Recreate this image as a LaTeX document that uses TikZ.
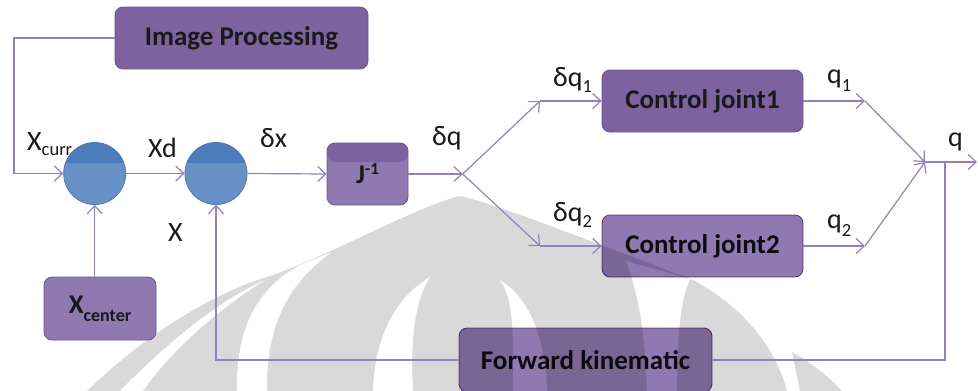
\documentclass[tikz,border=0pt]{standalone}
\usepackage{fontspec}
\setmainfont{Carlito}
\usetikzlibrary{arrows.meta}

\definecolor{boxdark}{HTML}{7E629F}
\definecolor{boxlight}{HTML}{9079B0}
\definecolor{boxedge}{HTML}{6C5690}
\definecolor{wire}{HTML}{9580BB}
\definecolor{balllight}{HTML}{6892C6}
\definecolor{balldark}{HTML}{4C7DBA}
\definecolor{balledge}{HTML}{4E78AC}
\definecolor{wmgray}{HTML}{D9D9D9}

\newcommand{\lowsub}[2][6pt]{\raisebox{-#1}{\fontsize{18.5}{18.5}\selectfont #2}}

\begin{document}
\begin{tikzpicture}[x=1pt,y=-1pt,
  blk/.style={draw=boxedge, line width=0.8pt, rounded corners=8pt, inner sep=0pt,
    font=\bfseries\fontsize{27}{27}\selectfont, text=black!90},
  darkbox/.style={blk, fill=boxdark},
  lightbox/.style={blk, fill=boxlight},
  overgray/.style={blend mode=multiply},
  summer/.style={circle, draw=balledge, line width=0.8pt, fill=balllight,
    minimum size=62pt, inner sep=0pt,
    path picture={\fill[balldark] (path picture bounding box.north west)
      rectangle ([yshift=-20pt]path picture bounding box.north east);}},
  wireline/.style={draw=wire, line width=1.2pt},
  wirearrow/.style={wireline, -{Straight Barb[length=8pt,width=15pt,line width=1.2pt]}},
  lbl/.style={font=\fontsize{28}{28}\selectfont, inner sep=0pt, anchor=base west, text=black!90}]

\useasboundingbox (0,0) rectangle (978,391);
\fill[white] (0,0) rectangle (978,391);

% faint emblem in the background
\begin{scope}
  \fill[wmgray] (87,391) .. controls (150,330) and (220,290) .. (273,275)
     .. controls (330,255) and (420,205) .. (460,196)
     .. controls (500,205) and (600,245) .. (693,280)
     .. controls (740,305) and (775,345) .. (787,391) -- cycle;
  \fill[wmgray] (800,391) -- (792,352) .. controls (815,365) and (830,378) .. (842,391) -- cycle;
  \fill[white] (120,391) .. controls (170,340) and (220,300) .. (265,280)
     .. controls (225,305) and (175,345) .. (143,391) -- cycle;
  \fill[white] (237,391) .. controls (236,330) and (255,290) .. (300,265)
     -- (332,252) .. controls (285,285) and (266,330) .. (267,391) -- cycle;
  \fill[white] (373,391) .. controls (375,330) and (400,295) .. (430,277)
     .. controls (415,300) and (410,340) .. (413,391) -- cycle;
  \fill[white] (500,280) .. controls (515,300) and (513,340) .. (513,391)
     -- (547,391) .. controls (545,330) and (525,295) .. (500,280) -- cycle;
  \fill[white] (647,391) .. controls (645,320) and (635,285) .. (626,261)
     -- (690,279) .. controls (680,300) and (677,340) .. (677,391) -- cycle;
\end{scope}

% this label sits partly behind the first summing point
\node[lbl] (lxcurr) at (27,150) {X\lowsub[5pt]{curr}};

% blocks
\node[darkbox, minimum width=253pt, minimum height=62pt] (imgp) at (241.5,38) {Image Processing};
\node[lightbox, minimum width=112pt, minimum height=63pt] (xcenter) at (100,308.5)
  {X\lowsub[8pt]{\bfseries\fontsize{18}{18}\selectfont center}};
\node[summer] (c1) at (94.7,173.5) {};
\node[summer] (c2) at (216,173.5) {};
\node[lightbox, minimum width=81pt, minimum height=62pt,
  path picture={\fill[boxdark] (path picture bounding box.north west)
      rectangle ([yshift=-19pt]path picture bounding box.north east);}]
  (jinv) at (367.5,174) {J\raisebox{9pt}{\fontsize{17}{17}\selectfont -1}};
\node[darkbox, minimum width=201pt, minimum height=62pt] (cj1) at (702.5,101) {Control joint1};
\begin{scope}[overgray]
\node[lightbox, minimum width=201pt, minimum height=62pt] (cj2) at (702.5,246) {Control joint2};
\node[lightbox, minimum width=253pt, minimum height=64pt] (fk) at (585.5,360) {Forward kinematic};
\end{scope}

% routing points
\coordinate (fb0) at (14,173.5);
\coordinate (split) at (462.7,174);
\coordinate (up) at (540,101);
\coordinate (dn) at (540,246);
\coordinate (q1pt) at (865,101);
\coordinate (q2pt) at (865,246);
\coordinate (merge) at (925,162);
\coordinate (tap) at (945,162);
\coordinate (qout) at (977,162);

% connectors
\draw[wirearrow] (imgp.west) -| (fb0) -- (c1.west);
\draw[wirearrow] (c1.east) -- (c2.west);
\draw[wirearrow] (c1 |- xcenter.north) -- (c1.south);
\draw[wirearrow] (c2.east) -- (jinv.west);
\draw[wirearrow] (jinv.east) -- (split);
\draw[wirearrow] (split) -- (up);
\draw[wirearrow] (up) -- (cj1.west);
\draw[wirearrow] (split) -- (dn);
\draw[wirearrow] (dn) -- (cj2.west);
\draw[wirearrow] (cj1.east) -- (q1pt);
\draw[wirearrow] (q1pt) -- (merge);
\draw[wirearrow] (cj2.east) -- (q2pt);
\draw[wirearrow] (q2pt) -- (merge);
\draw[wirearrow] (merge) -- (qout);
\draw[wireline] (tap) |- (fk.east);
\draw[wirearrow] (fk.west) -| (c2.south);

% signal labels
\node[lbl] (lxd) at (148,157) {Xd};
\node[lbl] (ldx) at (260,147) {δx};
\node[lbl] (ldq) at (432,145) {δq};
\node[lbl] (ldq1) at (553,86) {δq\lowsub{1}};
\node[lbl] (ldq2) at (553,221) {δq\lowsub{2}};
\node[lbl] (lq1) at (827,83) {q\lowsub[8pt]{1}};
\node[lbl] (lq2) at (827,228) {q\lowsub[8pt]{2}};
\node[lbl] (lq) at (948,146) {q};
\node[lbl] (lx) at (168,241) {X};
\end{tikzpicture}
\end{document}
